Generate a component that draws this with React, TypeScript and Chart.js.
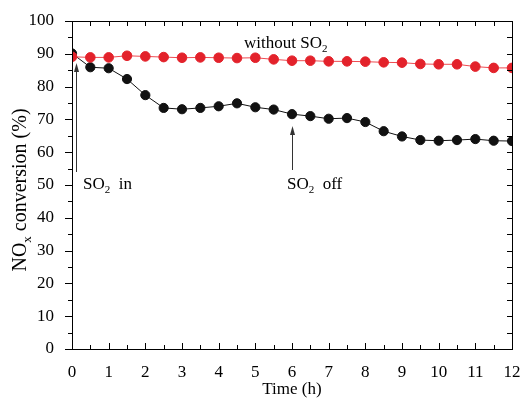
import React, { useEffect, useRef } from "react";
import { Chart, registerables } from "chart.js";

Chart.register(...registerables);

const times = [0, 0.5, 1, 1.5, 2, 2.5, 3, 3.5, 4, 4.5, 5, 5.5, 6, 6.5, 7, 7.5, 8, 8.5, 9, 9.5, 10, 10.5, 11, 11.5, 12];
const withSO2 = [90.1, 85.9, 85.6, 82.3, 77.4, 73.5, 73.1, 73.5, 74.0, 74.9, 73.7, 73.0, 71.6, 71.0, 70.2, 70.4, 69.2, 66.4, 64.8, 63.7, 63.5, 63.7, 64.0, 63.5, 63.4];
const withoutSO2 = [89.1, 88.9, 88.9, 89.4, 89.2, 89.0, 88.8, 88.9, 88.8, 88.7, 88.8, 88.3, 87.9, 87.9, 87.7, 87.7, 87.6, 87.4, 87.3, 86.9, 86.8, 86.8, 86.1, 85.7, 85.7];
const xTicks = [0, 1, 2, 3, 4, 5, 6, 7, 8, 9, 10, 11, 12];
const yTicks = [0, 10, 20, 30, 40, 50, 60, 70, 80, 90, 100];

const FONT = '"Liberation Serif", "Times New Roman", serif';

const decorPlugin = {
  id: "decor",
  afterDraw(chart: any) {
    const ctx = chart.ctx as CanvasRenderingContext2D;
    const { left, right, top, bottom } = chart.chartArea;
    const xs = chart.scales.x;
    const ys = chart.scales.y;
    ctx.save();
    ctx.strokeStyle = "#000";
    ctx.lineWidth = 1;
    ctx.strokeRect(Math.round(left) + 0.5, Math.round(top) + 0.5, Math.round(right - left), Math.round(bottom - top));
    ctx.beginPath();
    for (let v = 0; v <= 12.0001; v += 0.5) {
      const px = Math.round(xs.getPixelForValue(v)) + 0.5;
      const major = Math.abs(v - Math.round(v)) < 1e-6;
      const len = major ? 6 : 4;
      ctx.moveTo(px, bottom);
      ctx.lineTo(px, bottom - len);
      ctx.moveTo(px, top);
      ctx.lineTo(px, top + 5);
    }
    for (let v = 0; v <= 100.0001; v += 5) {
      const py = Math.round(ys.getPixelForValue(v)) + 0.5;
      const major = v % 10 === 0;
      ctx.moveTo(left, py);
      ctx.lineTo(left - (major ? 7 : 4), py);
      ctx.moveTo(right, py);
      ctx.lineTo(right - 5, py);
    }
    ctx.stroke();

    const arrow = (xv: number, y1: number, y2: number) => {
      const px = Math.round(xs.getPixelForValue(xv)) + 0.5;
      ctx.strokeStyle = "#333";
      ctx.fillStyle = "#333";
      ctx.beginPath();
      ctx.moveTo(px, y1);
      ctx.lineTo(px, y2 + 6);
      ctx.stroke();
      ctx.beginPath();
      ctx.moveTo(px, y2);
      ctx.lineTo(px - 2.5, y2 + 9);
      ctx.lineTo(px + 2.5, y2 + 9);
      ctx.closePath();
      ctx.fill();
    };
    arrow(0.1, 172, 63);
    arrow(6, 170, 126);

    ctx.fillStyle = "#000";
    ctx.textBaseline = "alphabetic";
    ctx.textAlign = "left";
    const sub = (parts: [string, boolean][], x: number, y: number, size: number) => {
      let cx = x;
      for (const [t, isSub] of parts) {
        ctx.font = `${isSub ? Math.round(size * 0.65) : size}px ${FONT}`;
        ctx.fillText(t, cx, isSub ? y + size * 0.25 : y);
        cx += ctx.measureText(t).width;
      }
    };
    sub([["without SO", false], ["2", true]], 244, 48, 17);
    sub([["SO", false], ["2", true], ["  in", false]], 83, 189, 17);
    sub([["SO", false], ["2", true], ["  off", false]], 287, 189, 17);

    ctx.font = `17px ${FONT}`;
    ctx.textAlign = "center";
    ctx.fillText("Time (h)", (left + right) / 2, 394);

    ctx.translate(26, 190);
    ctx.rotate(-Math.PI / 2);
    const size = 20;
    const parts: [string, boolean][] = [["NO", false], ["x", true], [" conversion (%)", false]];
    let total = 0;
    for (const [t, isSub] of parts) {
      ctx.font = `${isSub ? Math.round(size * 0.65) : size}px ${FONT}`;
      total += ctx.measureText(t).width;
    }
    ctx.textAlign = "left";
    sub(parts, -total / 2, 0, size);
    ctx.restore();
  },
};

export default function App() {
  const ref = useRef<HTMLCanvasElement | null>(null);
  useEffect(() => {
    if (!ref.current) return;
    const chart = new Chart(ref.current, {
      type: "line",
      data: {
        datasets: [
          {
            label: "without SO2",
            data: times.map((t, i) => ({ x: t, y: withoutSO2[i] })),
            borderColor: "#ee4a50",
            backgroundColor: "#e3222b",
            pointBackgroundColor: "#e3222b",
            pointBorderColor: "#e3222b",
            borderWidth: 1,
            pointRadius: 4.8,
            tension: 0,
          },
          {
            label: "with SO2",
            data: times.map((t, i) => ({ x: t, y: withSO2[i] })),
            borderColor: "#111",
            backgroundColor: "#111",
            pointBackgroundColor: "#111",
            pointBorderColor: "#111",
            borderWidth: 1,
            pointRadius: 4.6,
            tension: 0,
          },
        ],
      },
      options: {
        animation: false,
        responsive: false,
        maintainAspectRatio: false,
        layout: { padding: { left: 0, right: 9, top: 21, bottom: 0 } },
        plugins: { legend: { display: false }, tooltip: { enabled: false } },
        scales: {
          x: {
            type: "linear",
            min: 0,
            max: 12,
            afterFit: (s: any) => { s.height = 51; s.paddingLeft = 0; s.paddingRight = 0; },
            afterBuildTicks: (s: any) => { s.ticks = xTicks.map((v) => ({ value: v })); },
            grid: { display: false },
            border: { display: false },
            ticks: { color: "#000", padding: 5, font: { family: FONT, size: 17 }, maxRotation: 0 },
          },
          y: {
            min: 0,
            max: 100,
            afterFit: (s: any) => { s.width = 72; s.paddingTop = 0; s.paddingBottom = 0; },
            afterBuildTicks: (s: any) => { s.ticks = yTicks.map((v) => ({ value: v })); },
            grid: { display: false },
            border: { display: false },
            ticks: { color: "#000", padding: 10, font: { family: FONT, size: 17 } },
          },
        },
      },
      plugins: [decorPlugin],
    } as any);
    return () => chart.destroy();
  }, []);
  return (
    <div style={{ position: "fixed", left: 0, top: 0, width: 521, height: 400, background: "#fff" }}>
      <canvas ref={ref} width={521} height={400} style={{ width: 521, height: 400 }} />
    </div>
  );
}
